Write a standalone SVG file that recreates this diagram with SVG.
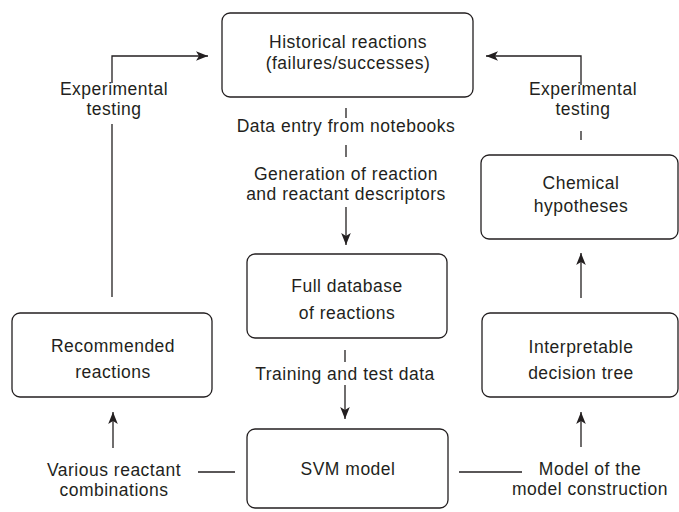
<svg xmlns="http://www.w3.org/2000/svg" width="679" height="512" viewBox="0 0 679 512">
<style>
.box{fill:#fff;stroke:#231f20;stroke-width:1.3}
.t{font-family:"Liberation Sans",Arial,sans-serif;font-size:17.5px;fill:#231f20;text-anchor:middle;letter-spacing:0.5px}
.c{fill:none;stroke:#231f20;stroke-width:1.3}
</style>
<defs>
<marker id="ah" markerUnits="userSpaceOnUse" markerWidth="14" markerHeight="12" viewBox="-13 -6 14 12" refX="0" refY="0" orient="auto">
<path d="M0,0 L-12,-4.8 L-9,0 L-12,4.8 Z" fill="#231f20"/>
</marker>
</defs>
<rect width="679" height="512" fill="#fff"/>
<g id="connectors">
<path class="c" d="M112,297 V124"/>
<path class="c" d="M112,83 V56 H208" marker-end="url(#ah)"/>
<path class="c" d="M581,140 V131"/>
<path class="c" d="M581,85 V56 H486" marker-end="url(#ah)"/>
<path class="c" d="M346,108 V118"/>
<path class="c" d="M346,145 V157"/>
<path class="c" d="M346,207 V245" marker-end="url(#ah)"/>
<path class="c" d="M345,350 V362"/>
<path class="c" d="M345,385 V419" marker-end="url(#ah)"/>
<path class="c" d="M198,472 H235"/>
<path class="c" d="M459,472 H522"/>
<path class="c" d="M113,448 V412" marker-end="url(#ah)"/>
<path class="c" d="M581,447 V412" marker-end="url(#ah)"/>
<path class="c" d="M581,298 V253" marker-end="url(#ah)"/>
<text class="t" x="346" y="132">Data entry from notebooks</text>
<text class="t" x="346" y="179.5">Generation of reaction</text>
<text class="t" x="346" y="200">and reactant descriptors</text>
<text class="t" x="345" y="380">Training and test data</text>
<text class="t" x="114" y="95">Experimental</text>
<text class="t" x="114" y="115">testing</text>
<text class="t" x="583" y="95">Experimental</text>
<text class="t" x="583" y="115">testing</text>
<text class="t" x="114" y="476">Various reactant</text>
<text class="t" x="114" y="496">combinations</text>
<text class="t" x="590" y="475">Model of the</text>
<text class="t" x="590" y="495">model construction</text>
</g>
<g id="historical">
<rect class="box" x="222" y="13" width="251" height="84" rx="8"/>
<text class="t" x="348" y="48">Historical reactions</text>
<text class="t" x="348" y="69">(failures/successes)</text>
</g>
<g id="fulldb">
<rect class="box" x="247" y="254" width="200" height="84" rx="8"/>
<text class="t" x="347" y="292">Full database</text>
<text class="t" x="347" y="319">of reactions</text>
</g>
<g id="svm">
<rect class="box" x="247" y="429" width="201" height="79" rx="8"/>
<text class="t" x="348" y="475">SVM model</text>
</g>
<g id="recommended">
<rect class="box" x="12" y="313" width="200" height="84" rx="8"/>
<text class="t" x="113" y="352">Recommended</text>
<text class="t" x="113" y="378">reactions</text>
</g>
<g id="interpretable">
<rect class="box" x="482" y="313" width="196" height="84" rx="8"/>
<text class="t" x="581" y="353">Interpretable</text>
<text class="t" x="581" y="379">decision tree</text>
</g>
<g id="chemical">
<rect class="box" x="481" y="155" width="197" height="84" rx="8"/>
<text class="t" x="581" y="189">Chemical</text>
<text class="t" x="581" y="212">hypotheses</text>
</g>
</svg>
